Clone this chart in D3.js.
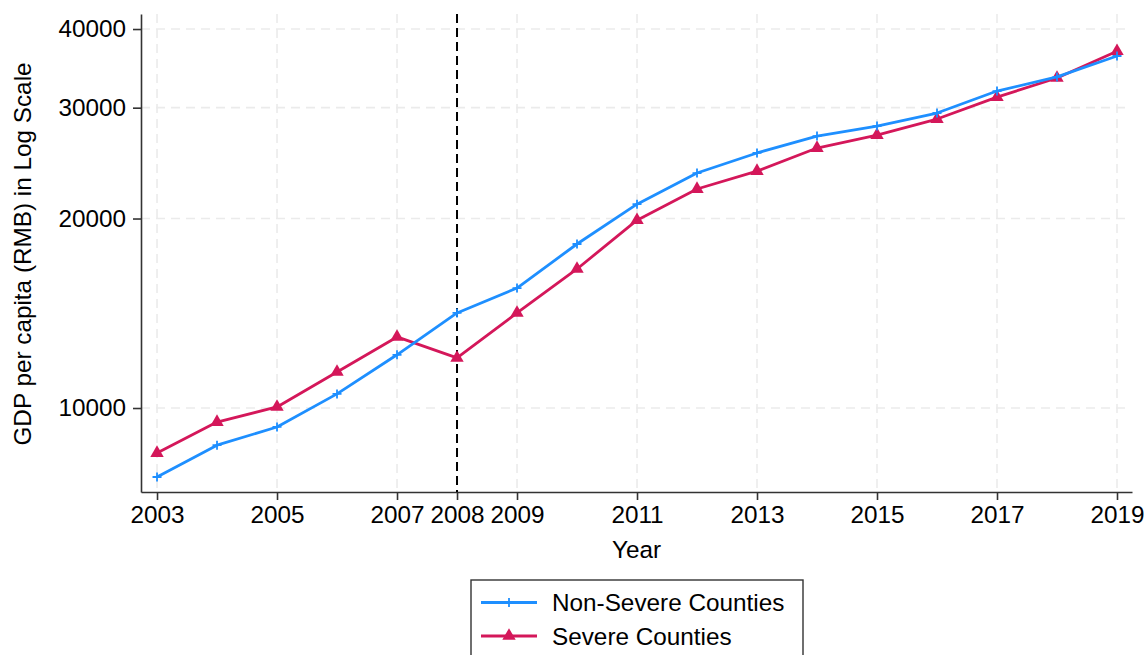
<!DOCTYPE html>
<html>
<head>
<meta charset="utf-8">
<script src="https://cdn.jsdelivr.net/npm/d3@7"></script>
<style>
  html, body { margin: 0; padding: 0; background: #fff; }
  svg { display: block; font-family: "Liberation Sans", Arial, sans-serif; }
</style>
</head>
<body>
<svg id="chart" width="1148" height="655"></svg>
<script>
// GDP per capita (RMB), county averages by year
const years = [2003, 2004, 2005, 2006, 2007, 2008, 2009, 2010, 2011, 2012, 2013, 2014, 2015, 2016, 2017, 2018, 2019];
const nonSevere = [7770, 8730, 9330, 10530, 12150, 14160, 15510, 18220, 21080, 23620, 25420, 27040, 28050, 29420, 31880, 33570, 36240];
const severe = [8480, 9500, 10040, 11410, 12970, 12010, 14160, 16630, 19880, 22280, 23790, 25880, 27140, 28780, 31180, 33440, 36890];
const xTicks = [2003, 2005, 2007, 2008, 2009, 2011, 2013, 2015, 2017, 2019];
const yTicks = [10000, 20000, 30000, 40000];
const eventYear = 2008;
const seriesNames = ["Non-Severe Counties", "Severe Counties"];

const colors = { non: "#1e8fff", sev: "#d4175a" };
const FS = 24.3;
const svg = d3.select("#chart");
const plot = { left: 141, right: 1132, top: 14, bottom: 492 };

const x = d3.scaleLinear().domain([2002.733, 2019.25]).range([plot.left, plot.right]);
const y = d3.scaleLog().domain([7355, 42260]).range([plot.bottom, plot.top]);

// dashed grid: horizontal at y ticks, vertical at odd-year ticks
const grid = svg.append("g").attr("stroke", "#ebebeb").attr("stroke-width", 1.6).attr("stroke-dasharray", "9,6");
grid.selectAll("line.h").data(yTicks).join("line")
  .attr("x1", plot.left).attr("x2", plot.right - 5)
  .attr("y1", d => y(d)).attr("y2", d => y(d));
grid.selectAll("line.v").data(xTicks.filter(t => t !== eventYear)).join("line")
  .attr("x1", d => x(d)).attr("x2", d => x(d))
  .attr("y1", plot.top).attr("y2", plot.bottom);

// axes
const xAxis = svg.append("g").attr("transform", `translate(0,${plot.bottom})`)
  .call(d3.axisBottom(x).tickValues(xTicks).tickFormat(d3.format("d")).tickSize(8).tickSizeOuter(0).tickPadding(6));
const yAxis = svg.append("g").attr("transform", `translate(${plot.left},0)`)
  .call(d3.axisLeft(y).tickValues(yTicks).tickFormat(d3.format("d")).tickSize(8).tickSizeOuter(0).tickPadding(7));
[xAxis, yAxis].forEach(a => {
  a.attr("font-size", FS).attr("font-family", "Liberation Sans, Arial, sans-serif");
  a.select(".domain").attr("stroke", "#333").attr("stroke-width", 1.6);
  a.selectAll(".tick line").attr("stroke", "#333").attr("stroke-width", 1.6);
  a.selectAll(".tick text").attr("fill", "#000");
});

// event year marker
svg.append("line")
  .attr("x1", x(eventYear)).attr("x2", x(eventYear))
  .attr("y1", plot.top).attr("y2", plot.bottom)
  .attr("stroke", "#000").attr("stroke-width", 2).attr("stroke-dasharray", "9,5");

// axis titles
svg.append("text").attr("x", (plot.left + plot.right) / 2).attr("y", 558)
  .attr("text-anchor", "middle").attr("font-size", FS).text("Year");
svg.append("text").attr("transform", `translate(31,${(plot.top + plot.bottom) / 2 + 1}) rotate(-90)`)
  .attr("text-anchor", "middle").attr("font-size", FS).text("GDP per capita (RMB) in Log Scale");

const line = d3.line().x(d => x(d[0])).y(d => y(d[1]));
const nonData = years.map((yr, i) => [yr, nonSevere[i]]);
const sevData = years.map((yr, i) => [yr, severe[i]]);

const tri = d3.symbol().type(d3.symbolTriangle).size(78);
const plus = "M-4.5,0H4.5M0,-4.5V4.5";

// severe counties
svg.append("path").datum(sevData).attr("d", line)
  .attr("fill", "none").attr("stroke", colors.sev).attr("stroke-width", 2.8).attr("stroke-linejoin", "round");
svg.append("g").selectAll("path").data(sevData).join("path")
  .attr("transform", d => `translate(${x(d[0])},${y(d[1])})`)
  .attr("d", tri).attr("fill", colors.sev);

// non-severe counties
svg.append("path").datum(nonData).attr("d", line)
  .attr("fill", "none").attr("stroke", colors.non).attr("stroke-width", 2.8).attr("stroke-linejoin", "round");
svg.append("g").selectAll("path").data(nonData).join("path")
  .attr("transform", d => `translate(${x(d[0])},${y(d[1])})`)
  .attr("d", plus).attr("stroke", colors.non).attr("stroke-width", 1.8);

// legend
const lg = svg.append("g").attr("transform", "translate(471,580)");
lg.append("rect").attr("width", 332).attr("height", 90).attr("fill", "#fff")
  .attr("stroke", "#333").attr("stroke-width", 1.4);
const items = [
  { name: seriesNames[0], color: colors.non, mark: "plus" },
  { name: seriesNames[1], color: colors.sev, mark: "tri" }
];
items.forEach((it, i) => {
  const cy = 22.5 + i * 33.5;
  lg.append("line").attr("x1", 10).attr("x2", 66).attr("y1", cy).attr("y2", cy)
    .attr("stroke", it.color).attr("stroke-width", 2.8);
  if (it.mark === "plus") {
    lg.append("path").attr("transform", `translate(38,${cy})`).attr("d", plus)
      .attr("stroke", it.color).attr("stroke-width", 1.8);
  } else {
    lg.append("path").attr("transform", `translate(38,${cy})`).attr("d", tri).attr("fill", it.color);
  }
  lg.append("text").attr("x", 81).attr("y", cy + 8.5).attr("font-size", FS).text(it.name);
});
</script>
</body>
</html>
